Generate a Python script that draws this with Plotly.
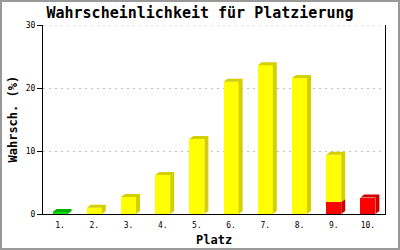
import plotly.graph_objects as go

categories = ["1.", "2.", "3.", "4.", "5.", "6.", "7.", "8.", "9.", "10."]
green_vals = [0.3, 0, 0, 0, 0, 0, 0, 0, 0, 0]
red_vals = [0, 0, 0, 0, 0, 0, 0, 0, 1.9, 2.6]
yellow_vals = [0, 1.0, 2.7, 6.2, 11.9, 21.0, 23.6, 21.6, 7.5, 0]
y_ticks = [0, 10, 20, 30]

W, H = 400, 250
ML, MR, MT, MB = 43, 15, 25, 36
PW, PH = W - ML - MR, H - MT - MB
xr_ = (0.5, 10.5)
yr_ = (0, 30)
ux = PW / (xr_[1] - xr_[0])
uy = PH / (yr_[1] - yr_[0])

bw = 15 / ux
dx = 4 / ux
dy = 3 / uy

xs = list(range(1, len(categories) + 1))
# stacking order: bottom first
series = [
    (green_vals, "#00dd00", "#00b000"),
    (red_vals, "#ff0000", "#cc0000"),
    (yellow_vals, "#ffff00", "#d4d000"),
]

fig = go.Figure()

base = [0.0] * len(xs)
segs = []
for vals, fc, sc in series:
    for i, v in enumerate(vals):
        if v > 0:
            segs.append((i, base[i], base[i] + v, fc, sc))
            base[i] += v
totals = base[:]

for vals, fc, sc in series:
    fig.add_trace(go.Bar(x=xs, y=vals, width=bw, marker=dict(color=fc, line=dict(width=0)),
                         hoverinfo="skip", showlegend=False))

depth = {}
for i, b, t, fc, sc in segs:
    c = xs[i]
    xl, xr = c - bw / 2, c + bw / 2
    is_top = abs(t - totals[i]) < 1e-9
    if is_top:
        px = [xr, xr + dx, xr + dx, xl + dx, xl, xr, xr, None]
        py = [b, b + dy, t + dy, t + dy, t, t, b, None]
    else:
        px = [xr, xr + dx, xr + dx, xr, xr, None]
        py = [b, b + dy, t + dy, t, b, None]
    d = depth.setdefault(sc, ([], []))
    d[0].extend(px)
    d[1].extend(py)

for sc, (px, py) in depth.items():
    fig.add_trace(go.Scatter(x=px, y=py, mode="lines", fill="toself", fillcolor=sc,
                             line=dict(width=0, color=sc), hoverinfo="skip", showlegend=False))

mono = "DejaVu Sans Mono"
fig.update_layout(
    width=W, height=H, margin=dict(l=ML, r=MR, t=MT, b=MB),
    paper_bgcolor="white", plot_bgcolor="white", barmode="stack", bargap=0,
    title=dict(text="<b>Wahrscheinlichkeit für Platzierung</b>", x=0.5, xanchor="center",
               y=1 - 13 / H, yanchor="middle", yref="container",
               font=dict(family=mono, size=15, color="black")),
    xaxis=dict(range=list(xr_), tickvals=xs, ticktext=categories, showgrid=False, zeroline=False,
               showline=True, linecolor="black", linewidth=1, ticks="", ticklabelstandoff=3,
               tickfont=dict(family=mono, size=8, color="black")),
    yaxis=dict(range=list(yr_), tickvals=y_ticks, showgrid=True, gridcolor="#c0c0c0",
               griddash="2px,4px", gridwidth=1, zeroline=False, showline=True, mirror=True,
               linecolor="black", linewidth=1, ticks="outside", ticklen=5, tickcolor="black",
               tickfont=dict(family=mono, size=8, color="black")),
    annotations=[
        dict(text="<b>Platz</b>", xref="paper", yref="paper", x=0.5, y=-(240 - (MT + PH)) / PH,
             xanchor="center", yanchor="middle", showarrow=False,
             font=dict(family=mono, size=12, color="black")),
        dict(text="<b>Wahrsch. (%)</b>", xref="paper", yref="paper", x=-(ML - 12) / PW,
             y=0.5, xanchor="center", yanchor="middle", textangle=-90, showarrow=False,
             font=dict(family=mono, size=12, color="black")),
    ],
    shapes=[
        dict(type="line", xref="paper", yref="y", x0=0, x1=1, y0=30, y1=30,
             line=dict(color="#c0c0c0", width=1, dash="2px,4px"), layer="above"),
        dict(type="rect", xref="paper", yref="paper",
             x0=-(ML - 1) / PW, x1=1 + (MR - 1) / PW,
             y0=-(MB - 1) / PH, y1=1 + (MT - 1) / PH,
             line=dict(color="#999999", width=2), layer="above"),
    ],
)

fig.write_html("out.html")
